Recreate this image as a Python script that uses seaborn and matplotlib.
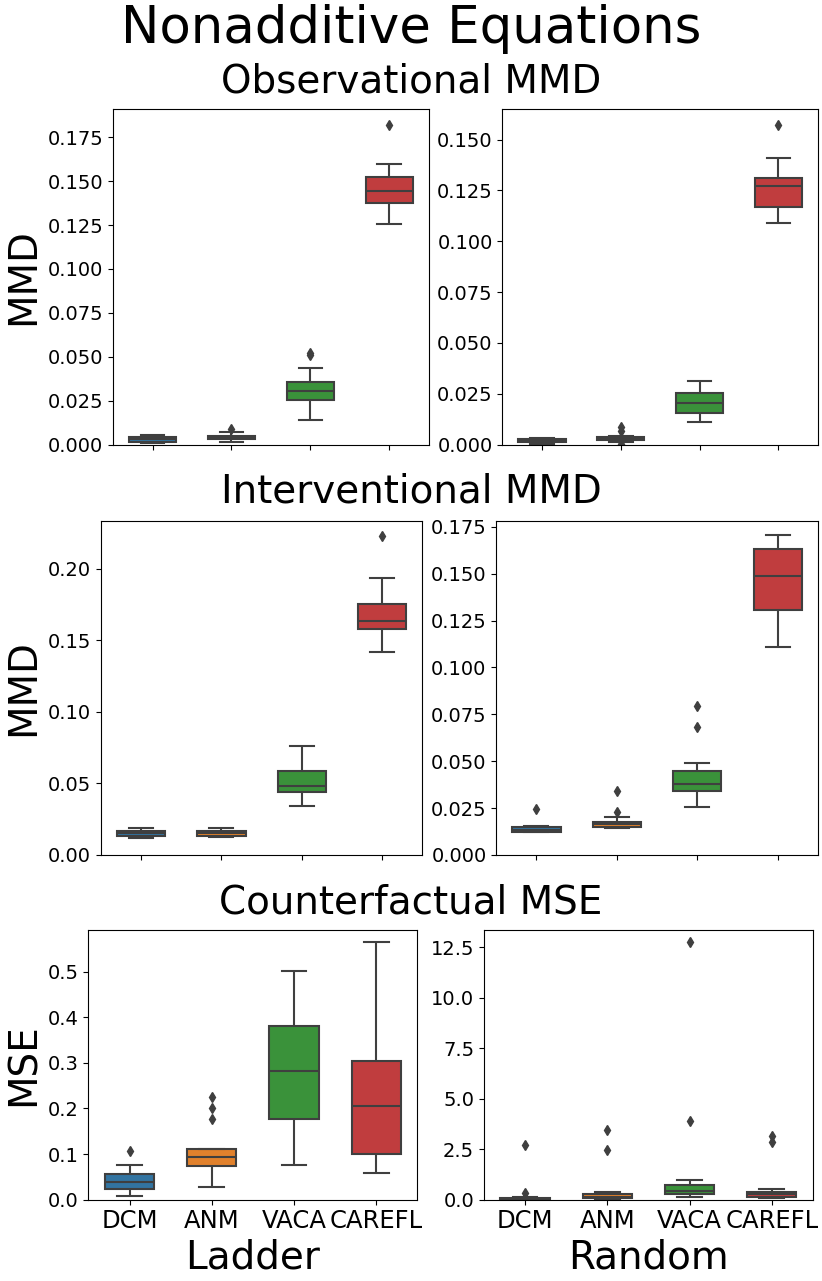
import pandas as pd
import matplotlib
matplotlib.use("Agg")
import matplotlib.pyplot as plt
import seaborn as sns

# models and panel titles
models = ["DCM", "ANM", "VACA", "CAREFL"]
row_titles = ["Observational MMD", "Interventional MMD", "Counterfactual MSE"]
row_ylabels = ["MMD", "MMD", "MSE"]
col_labels = ["Ladder", "Random"]

# observational MMD, ladder graph
obs_ladder_dcm = [0.0010, 0.0012, 0.0014, 0.0016, 0.0020, 0.0025, 0.0030, 0.0034, 0.0040, 0.0045, 0.0049, 0.0052, 0.0055]
obs_ladder_anm = [0.0016, 0.0020, 0.0026, 0.0030, 0.0034, 0.0037, 0.0040, 0.0043, 0.0047, 0.0050, 0.0060, 0.0074, 0.0088]
obs_ladder_vaca = [0.0141, 0.0200, 0.0240, 0.0256, 0.0280, 0.0295, 0.0305, 0.0320, 0.0340, 0.0354, 0.0438, 0.0511, 0.0524]
obs_ladder_carefl = [0.1254, 0.1300, 0.1350, 0.1377, 0.1400, 0.1425, 0.1444, 0.1470, 0.1500, 0.1522, 0.1560, 0.1596, 0.1821]

# observational MMD, random graph
obs_random_dcm = [0.0005, 0.0008, 0.0010, 0.0012, 0.0015, 0.0017, 0.0019, 0.0021, 0.0023, 0.0026, 0.0028, 0.0029, 0.0031]
obs_random_anm = [0.0003, 0.0014, 0.0020, 0.0024, 0.0027, 0.0029, 0.0030, 0.0032, 0.0034, 0.0036, 0.0044, 0.0068, 0.0086]
obs_random_vaca = [0.0110, 0.0130, 0.0148, 0.0157, 0.0175, 0.0190, 0.0204, 0.0220, 0.0240, 0.0253, 0.0270, 0.0290, 0.0313]
obs_random_carefl = [0.1088, 0.1120, 0.1150, 0.1171, 0.1210, 0.1250, 0.1272, 0.1285, 0.1300, 0.1311, 0.1360, 0.1410, 0.1573]

# interventional MMD, ladder graph
int_ladder_dcm = [0.0115, 0.0122, 0.0128, 0.0132, 0.0140, 0.0146, 0.0151, 0.0156, 0.0162, 0.0168, 0.0175, 0.0180, 0.0185]
int_ladder_anm = [0.0125, 0.0129, 0.0132, 0.0135, 0.0143, 0.0149, 0.0154, 0.0158, 0.0163, 0.0168, 0.0174, 0.0180, 0.0185]
int_ladder_vaca = [0.0339, 0.0380, 0.0420, 0.0442, 0.0460, 0.0475, 0.0485, 0.0520, 0.0560, 0.0586, 0.0640, 0.0700, 0.0761]
int_ladder_carefl = [0.1421, 0.1500, 0.1550, 0.1577, 0.1600, 0.1620, 0.1635, 0.1670, 0.1710, 0.1753, 0.1820, 0.1933, 0.2231]

# interventional MMD, random graph
int_random_dcm = [0.0120, 0.0121, 0.0122, 0.0123, 0.0127, 0.0131, 0.0134, 0.0138, 0.0142, 0.0147, 0.0150, 0.0152, 0.0244]
int_random_anm = [0.0141, 0.0143, 0.0145, 0.0147, 0.0155, 0.0160, 0.0165, 0.0170, 0.0174, 0.0178, 0.0202, 0.0230, 0.0339]
int_random_vaca = [0.0257, 0.0300, 0.0325, 0.0339, 0.0350, 0.0365, 0.0376, 0.0400, 0.0425, 0.0447, 0.0489, 0.0684, 0.0795]
int_random_carefl = [0.1109, 0.1200, 0.1270, 0.1305, 0.1380, 0.1440, 0.1486, 0.1530, 0.1580, 0.1629, 0.1660, 0.1690, 0.1704]

# counterfactual MSE, ladder graph
cf_ladder_dcm = [0.0083, 0.0150, 0.0200, 0.0241, 0.0300, 0.0350, 0.0392, 0.0440, 0.0500, 0.0558, 0.0650, 0.0762, 0.1056]
cf_ladder_anm = [0.0279, 0.0550, 0.0690, 0.0730, 0.0770, 0.0850, 0.0910, 0.0946, 0.1000, 0.1080, 0.1116, 0.1765, 0.2021, 0.2262]
cf_ladder_vaca = [0.0754, 0.1200, 0.1500, 0.1765, 0.2100, 0.2500, 0.2828, 0.3100, 0.3500, 0.3808, 0.4200, 0.4600, 0.5015]
cf_ladder_carefl = [0.0573, 0.0750, 0.0900, 0.1011, 0.1400, 0.1750, 0.2051, 0.2400, 0.2750, 0.3039, 0.3700, 0.4600, 0.5649]

# counterfactual MSE, random graph
cf_random_dcm = [0.005, 0.010, 0.015, 0.020, 0.030, 0.040, 0.050, 0.060, 0.075, 0.090, 0.110, 0.310, 2.710]
cf_random_anm = [0.030, 0.050, 0.065, 0.080, 0.100, 0.130, 0.150, 0.180, 0.220, 0.260, 0.350, 2.450, 3.470]
cf_random_vaca = [0.120, 0.180, 0.220, 0.260, 0.320, 0.380, 0.430, 0.520, 0.620, 0.730, 0.950, 3.870, 12.740]
cf_random_carefl = [0.080, 0.100, 0.120, 0.140, 0.180, 0.220, 0.260, 0.300, 0.350, 0.390, 0.510, 2.850, 3.150]

panels = [
    [[obs_ladder_dcm, obs_ladder_anm, obs_ladder_vaca, obs_ladder_carefl],
     [obs_random_dcm, obs_random_anm, obs_random_vaca, obs_random_carefl]],
    [[int_ladder_dcm, int_ladder_anm, int_ladder_vaca, int_ladder_carefl],
     [int_random_dcm, int_random_anm, int_random_vaca, int_random_carefl]],
    [[cf_ladder_dcm, cf_ladder_anm, cf_ladder_vaca, cf_ladder_carefl],
     [cf_random_dcm, cf_random_anm, cf_random_vaca, cf_random_carefl]],
]


def to_frame(groups):
    rows = []
    for name, vals in zip(models, groups):
        for v in vals:
            rows.append({"model": name, "value": v})
    return pd.DataFrame(rows)


fig = plt.figure(figsize=(8.22, 12.81), dpi=100, layout="constrained")
fig.suptitle("Nonadditive Equations", fontsize=37)
subfigs = fig.subfigures(3, 1)

for r, sf in enumerate(subfigs):
    sf.suptitle(row_titles[r], fontsize=28)
    axes = sf.subplots(1, 2)
    for c, ax in enumerate(axes):
        df = to_frame(panels[r][c])
        sns.boxplot(data=df, x="model", y="value", hue="model", order=models,
                    hue_order=models, palette="tab10", legend=False, width=0.6,
                    linecolor="#3f3f3f", linewidth=1.5, fliersize=5,
                    flierprops={"marker": "d", "markerfacecolor": "#3f3f3f",
                                "markeredgecolor": "#3f3f3f"},
                    ax=ax)
        ax.set_ylim(bottom=0)
        ax.tick_params(axis="y", labelsize=14)
        if r == 2:
            ax.tick_params(axis="x", labelsize=17.5)
            ax.set_xlabel(col_labels[c], fontsize=28)
        else:
            ax.set_xticklabels([])
            ax.set_xlabel("")
        if c == 0:
            ax.set_ylabel(row_ylabels[r], fontsize=28)
        else:
            ax.set_ylabel("")

fig.savefig("out.png", dpi=100)
